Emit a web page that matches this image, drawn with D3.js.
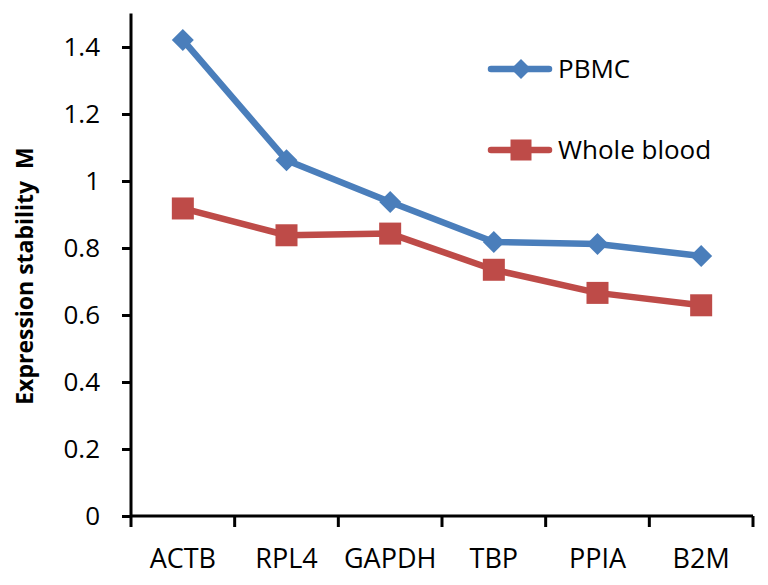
<!DOCTYPE html>
<html><head><meta charset="utf-8">
<script src="https://cdn.jsdelivr.net/npm/d3@7/dist/d3.min.js"></script>
<style>body{margin:0;background:#fff}svg{display:block}</style>
</head><body>
<svg id="c" width="768" height="585"></svg>
<script>
const categories = ["ACTB","RPL4","GAPDH","TBP","PPIA","B2M"];
const pbmc = [1.421, 1.062, 0.937, 0.818, 0.812, 0.776];
const wholeBlood = [0.918, 0.838, 0.843, 0.735, 0.666, 0.629];
const yTicks = [0,0.2,0.4,0.6,0.8,1,1.2,1.4];
const seriesNames = ["PBMC","Whole blood"];

const svg = d3.select("#c");
const font = "'Open Sans', sans-serif";
const L=131, R=753, T=13.5, B=516;
const x = d3.scaleBand().domain(categories).range([L,R]);
const y = d3.scaleLinear().domain([0,1.5]).range([B,T]);
const blue="#4a7ebb", red="#be4b48";

// y axis
const ya = svg.append("g").attr("transform",`translate(${L},0)`)
  .call(d3.axisLeft(y).tickValues(yTicks).tickSize(9).tickPadding(22).tickFormat(d=>String(+d.toFixed(1))));
ya.select(".domain").attr("stroke","#000").attr("stroke-width",3).attr("d",`M0,${T}V${B}`);
ya.selectAll(".tick line").attr("stroke","#000").attr("stroke-width",3);
ya.selectAll(".tick text").attr("font-family",font).attr("font-size",26).attr("fill","#000");

// x axis
const xa = svg.append("g").attr("transform",`translate(0,${B})`)
  .call(d3.axisBottom(x).tickSize(0).tickPadding(33));
xa.select(".domain").attr("stroke","#000").attr("stroke-width",3).attr("d",`M${L},0H${R}`);
xa.selectAll(".tick text").attr("font-family",font).attr("font-size",27).attr("fill","#000");
const bounds = categories.map(c=>x(c)).concat([R]);
xa.selectAll("line.xt").data(bounds).enter().append("line").attr("class","xt")
  .attr("x1",d=>d).attr("x2",d=>d).attr("y1",0).attr("y2",11).attr("stroke","#000").attr("stroke-width",3);

// y title
svg.append("text").attr("transform",`translate(33,276) rotate(-90)`)
  .attr("text-anchor","middle").attr("font-family",font).attr("font-weight","bold").attr("font-size",23)
  .style("white-space","pre")
  .text("Expression stability  M");

const cx = c=>x(c)+x.bandwidth()/2;
const line = d3.line().x((d,i)=>cx(categories[i])).y(d=>y(d));
function diamond(g,px,py,r){g.append("path").attr("d",`M${px},${py-r}L${px+r},${py}L${px},${py+r}L${px-r},${py}Z`).attr("fill",blue);}
function square(g,px,py,s){g.append("rect").attr("x",px-s/2).attr("y",py-s/2).attr("width",s).attr("height",s).attr("fill",red);}

svg.append("path").datum(wholeBlood).attr("d",line).attr("fill","none").attr("stroke",red).attr("stroke-width",6.5).attr("stroke-linejoin","round");
wholeBlood.forEach((v,i)=>square(svg,cx(categories[i]),y(v),22));
svg.append("path").datum(pbmc).attr("d",line).attr("fill","none").attr("stroke",blue).attr("stroke-width",6.5).attr("stroke-linejoin","round");
pbmc.forEach((v,i)=>diamond(svg,cx(categories[i]),y(v),11));

// legend
const lg = [{n:seriesNames[0],c:blue,y:69,m:"d"},{n:seriesNames[1],c:red,y:150,m:"s"}];
lg.forEach(o=>{
  svg.append("line").attr("x1",491).attr("x2",549).attr("y1",o.y).attr("y2",o.y).attr("stroke",o.c).attr("stroke-width",6.5).attr("stroke-linecap","round");
  if(o.m==="d") diamond(svg,521,o.y,10); else square(svg,521,o.y,21);
  svg.append("text").attr("x",558).attr("y",o.y+9).attr("font-family",font).attr("font-size",26).attr("fill","#000").text(o.n);
});
</script>
</body></html>
